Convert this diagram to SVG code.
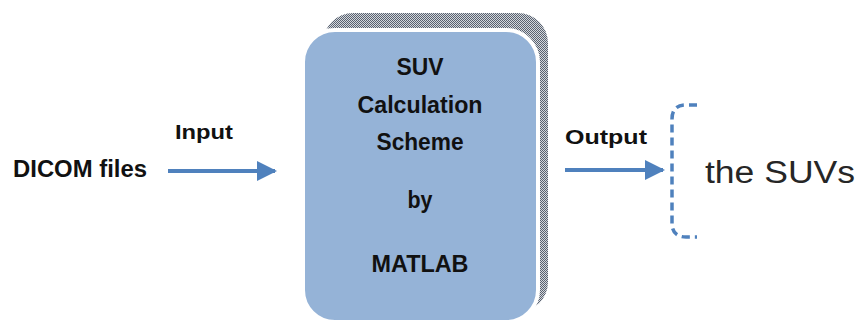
<svg xmlns="http://www.w3.org/2000/svg" width="859" height="329" viewBox="0 0 859 329">
  <defs>
    <pattern id="hatch" width="2" height="2" patternUnits="userSpaceOnUse">
      <rect width="2" height="2" fill="#d4d8dd"/>
      <rect width="1" height="1" fill="#5a6270"/>
      <rect x="1" y="1" width="1" height="1" fill="#5a6270"/>
    </pattern>
    <marker id="arrow" viewBox="0 0 10 10" refX="9" refY="5" markerWidth="5" markerHeight="5" orient="auto" markerUnits="strokeWidth">
      <path d="M0,0 L10,5 L0,10 Z" fill="#4f81bd"/>
    </marker>
    <style>
      .lbl { font-family: "Liberation Sans", Arial, sans-serif; font-weight: bold; fill: #111; }
      .conn { stroke: #4f81bd; stroke-width: 4; fill: none; }
    </style>
  </defs>
  <rect width="859" height="329" fill="#ffffff"/>

  <g id="dicom">
    <text class="lbl" x="13" y="177" font-size="23" textLength="134" lengthAdjust="spacingAndGlyphs">DICOM files</text>
  </g>

  <g id="process">
    <rect x="323" y="13" width="225" height="299" rx="30" ry="30" fill="url(#hatch)"/>
    <rect x="303" y="30" width="235" height="292" rx="32" ry="32" fill="#95b3d7" stroke="#ffffff" stroke-width="4"/>
    <text class="lbl" x="420" y="75" font-size="23" text-anchor="middle" textLength="47" lengthAdjust="spacingAndGlyphs">SUV</text>
    <text class="lbl" x="420" y="113" font-size="23" text-anchor="middle" textLength="125" lengthAdjust="spacingAndGlyphs">Calculation</text>
    <text class="lbl" x="420" y="150" font-size="23" text-anchor="middle" textLength="87" lengthAdjust="spacingAndGlyphs">Scheme</text>
    <text class="lbl" x="420" y="208" font-size="23" text-anchor="middle" textLength="25" lengthAdjust="spacingAndGlyphs">by</text>
    <text class="lbl" x="420" y="272" font-size="23" text-anchor="middle" textLength="97" lengthAdjust="spacingAndGlyphs">MATLAB</text>
  </g>

  <g id="result">
    <path d="M697,105 H686 Q672,105 672,119 V223 Q672,237 686,237 H697" fill="none" stroke="#4f81bd" stroke-width="3.5" stroke-dasharray="8,5"/>
    <text x="705" y="183" font-family="'Liberation Sans', Arial, sans-serif" font-size="31" fill="#262626" textLength="150" lengthAdjust="spacingAndGlyphs">the SUVs</text>
  </g>

  <g id="connectors">
    <line class="conn" x1="168" y1="171" x2="275" y2="171" marker-end="url(#arrow)"/>
    <text class="lbl" x="175" y="139" font-size="21" textLength="58" lengthAdjust="spacingAndGlyphs">Input</text>
    <line class="conn" x1="565" y1="170" x2="663" y2="170" marker-end="url(#arrow)"/>
    <text class="lbl" x="565" y="144" font-size="21" textLength="82" lengthAdjust="spacingAndGlyphs">Output</text>
  </g>
</svg>
